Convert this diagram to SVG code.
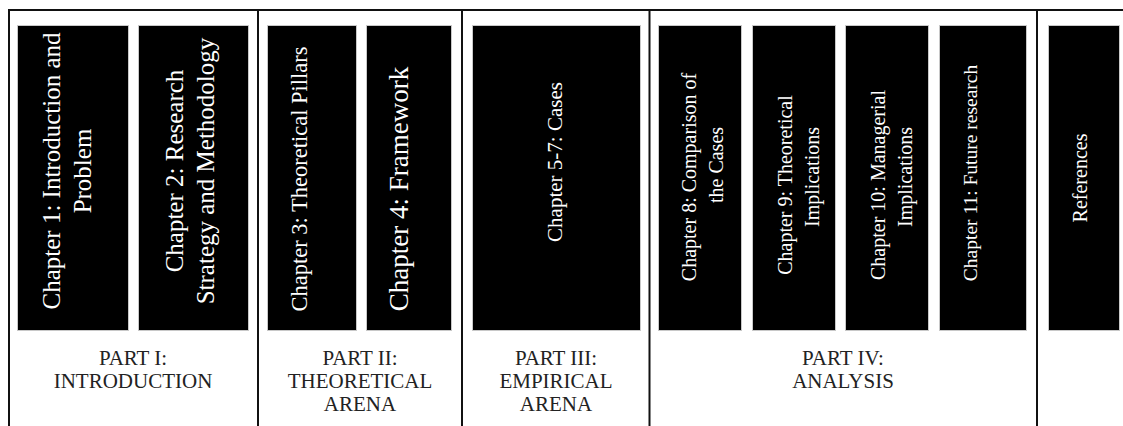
<svg xmlns="http://www.w3.org/2000/svg" width="1123" height="426" viewBox="0 0 1123 426">
<style>
.frame{stroke:#111;stroke-width:2;fill:none}
.box{fill:#000;stroke:#c8c8c8;stroke-width:1}
.ch{fill:#fff;font-family:"Liberation Serif","Times New Roman",serif;text-anchor:middle}
.part{fill:#222;font-family:"Liberation Serif","Times New Roman",serif;font-size:21px;text-anchor:middle}
</style>
<rect width="1123" height="426" fill="#fff"/>
<g id="frame">
<line class="frame" x1="9" y1="10" x2="1123" y2="10"/>
<line class="frame" x1="9" y1="9" x2="9" y2="426"/>
<line class="frame" x1="258" y1="10" x2="258" y2="426"/>
<line class="frame" x1="462" y1="10" x2="462" y2="426"/>
<line class="frame" x1="649.5" y1="10" x2="649.5" y2="426"/>
<line class="frame" x1="1037" y1="10" x2="1037" y2="426"/>
</g>
<g id="ch1"><rect class="box" x="17.5" y="25.5" width="111" height="305"/>
<text class="ch" font-size="25" transform="translate(60,171) rotate(-90)"><tspan x="0" y="0">Chapter 1: Introduction and</tspan><tspan x="0" y="31">Problem</tspan></text></g>
<g id="ch2"><rect class="box" x="138.5" y="25.5" width="110" height="305"/>
<text class="ch" font-size="25" transform="translate(183,171) rotate(-90)"><tspan x="0" y="0">Chapter 2: Research</tspan><tspan x="0" y="31">Strategy and Methodology</tspan></text></g>
<g id="ch3"><rect class="box" x="267.5" y="25.5" width="89" height="305"/>
<text class="ch" font-size="22.5" transform="translate(307,179) rotate(-90)">Chapter 3: Theoretical Pillars</text></g>
<g id="ch4"><rect class="box" x="366.5" y="25.5" width="85" height="305"/>
<text class="ch" font-size="27" transform="translate(408,189) rotate(-90)">Chapter 4: Framework</text></g>
<g id="ch5-7"><rect class="box" x="472.5" y="25.5" width="168" height="305"/>
<text class="ch" font-size="21" transform="translate(562,162) rotate(-90)">Chapter 5-7: Cases</text></g>
<g id="ch8"><rect class="box" x="658.5" y="25.5" width="83" height="305"/>
<text class="ch" font-size="20" transform="translate(696,177) rotate(-90)"><tspan x="0" y="0">Chapter 8: Comparison of</tspan><tspan x="12" y="27">the Cases</tspan></text></g>
<g id="ch9"><rect class="box" x="752.5" y="25.5" width="83" height="305"/>
<text class="ch" font-size="20" transform="translate(792,185) rotate(-90)"><tspan x="0" y="0">Chapter 9: Theoretical</tspan><tspan x="8" y="27">Implications</tspan></text></g>
<g id="ch10"><rect class="box" x="845.5" y="25.5" width="83" height="305"/>
<text class="ch" font-size="20" transform="translate(885,185) rotate(-90)"><tspan x="0" y="0">Chapter 10: Managerial</tspan><tspan x="8" y="27">Implications</tspan></text></g>
<g id="ch11"><rect class="box" x="939.5" y="25.5" width="87" height="305"/>
<text class="ch" font-size="19.5" transform="translate(977,173) rotate(-90)">Chapter 11: Future research</text></g>
<g id="refs"><rect class="box" x="1048.5" y="25.5" width="71" height="305"/>
<text class="ch" font-size="20" transform="translate(1087,178) rotate(-90)">References</text></g>
<g id="part1"><text class="part"><tspan x="133" y="365">PART I:</tspan><tspan x="133" y="388">INTRODUCTION</tspan></text></g>
<g id="part2"><text class="part"><tspan x="360" y="365">PART II:</tspan><tspan x="360" y="388">THEORETICAL</tspan><tspan x="360" y="411">ARENA</tspan></text></g>
<g id="part3"><text class="part"><tspan x="556" y="365">PART III:</tspan><tspan x="556" y="388">EMPIRICAL</tspan><tspan x="556" y="411">ARENA</tspan></text></g>
<g id="part4"><text class="part"><tspan x="843" y="365">PART IV:</tspan><tspan x="843" y="388">ANALYSIS</tspan></text></g>
</svg>
